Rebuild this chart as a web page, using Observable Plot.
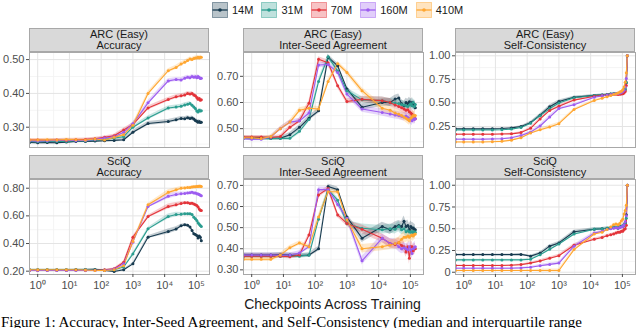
<!DOCTYPE html>
<html><head><meta charset="utf-8">
<script src="https://cdn.jsdelivr.net/npm/d3@7"></script>
<script src="https://cdn.jsdelivr.net/npm/@observablehq/plot@0.6"></script>
<style>
body{margin:0;background:#fff;overflow:hidden;}
#root{position:relative;width:640px;height:328px;overflow:hidden;font-family:"Liberation Sans",Arial,sans-serif;background:#fff;}
.strip{position:absolute;box-sizing:border-box;background:#d9d9d9;border:1px solid #a8a8a8;font-size:11px;line-height:11px;text-align:center;color:#1a1a1a;display:flex;flex-direction:column;justify-content:center;}
.panel{position:absolute;}
.legend{position:absolute;top:2px;left:212px;display:flex;align-items:center;font-size:11px;color:#1a1a1a;}
.legend .item{display:flex;align-items:center;margin-right:8px;}
.legend svg{margin-right:4px;}
.xtitle{position:absolute;left:0;width:665px;text-align:center;top:297px;font-size:14px;line-height:15px;color:#1a1a1a;}
.caption{position:absolute;left:1px;top:316px;font-family:"Liberation Serif","Times New Roman",serif;font-size:15px;line-height:13px;white-space:nowrap;color:#000;}
</style></head><body><div id="root"></div><script>
// ---------- data ----------
const steps = [0,1,2,4,8,16,32,64,128,256,512,1000,3000,13000,23000,33000,43000,53000,63000,73000,83000,93000,103000,113000,123000,133000,143000];
const models = ["14M","31M","70M","160M","410M"];
const palette = ["#173a4f","#2a9d8f","#e3343a","#9d5cf0","#ffa630"];
const tasks = ["ARC (Easy)","SciQ"];
const metrics = ["Accuracy","Inter-Seed Agreement","Self-Consistency"];
const xTicks = [1,10,100,1000,10000,100000];
const xTickLabels = ["10⁰","10¹","10²","10³","10⁴","10⁵"];

// ARC (Easy) accuracy, one row per model (14M, 31M, 70M, 160M, 410M)
const arcAccuracy = [
 [0.255,0.254,0.255,0.254,0.256,0.258,0.258,0.259,0.260,0.261,0.263,0.285,0.311,0.317,0.322,0.326,0.325,0.328,0.326,0.327,0.324,0.320,0.318,0.315,0.317,0.314,0.315],
 [0.258,0.257,0.258,0.258,0.258,0.260,0.259,0.262,0.264,0.268,0.272,0.300,0.327,0.357,0.360,0.362,0.366,0.368,0.370,0.365,0.360,0.355,0.348,0.345,0.350,0.348,0.349],
 [0.262,0.262,0.261,0.262,0.261,0.263,0.264,0.266,0.270,0.275,0.292,0.308,0.357,0.382,0.390,0.393,0.395,0.400,0.398,0.400,0.395,0.393,0.388,0.383,0.385,0.380,0.381],
 [0.260,0.259,0.260,0.261,0.262,0.260,0.261,0.264,0.268,0.272,0.285,0.310,0.372,0.437,0.441,0.440,0.445,0.448,0.446,0.450,0.448,0.449,0.446,0.450,0.447,0.444,0.445],
 [0.262,0.262,0.263,0.262,0.264,0.263,0.262,0.265,0.262,0.270,0.278,0.306,0.400,0.467,0.477,0.487,0.492,0.497,0.502,0.500,0.503,0.505,0.505,0.507,0.505,0.507,0.507]
];
const arcAccuracySpread = [0.004,0.004,0.004,0.004,0.004,0.004,0.004,0.004,0.004,0.004,0.005,0.005,0.006,0.006,0.006,0.006,0.006,0.006,0.006,0.006,0.006,0.006,0.006,0.006,0.006,0.006,0.006];

const arcAgreement = [
 [0.465,0.465,0.465,0.463,0.463,0.477,0.505,0.540,0.568,0.773,0.740,0.652,0.582,0.600,0.600,0.613,0.617,0.595,0.588,0.600,0.595,0.603,0.595,0.600,0.588,0.592,0.580],
 [0.463,0.462,0.462,0.462,0.463,0.463,0.490,0.535,0.680,0.775,0.720,0.645,0.610,0.607,0.600,0.598,0.596,0.592,0.590,0.588,0.585,0.590,0.595,0.588,0.600,0.585,0.592],
 [0.468,0.468,0.468,0.466,0.470,0.505,0.530,0.597,0.765,0.752,0.664,0.604,0.612,0.607,0.600,0.590,0.585,0.580,0.575,0.570,0.572,0.565,0.560,0.555,0.550,0.545,0.538],
 [0.462,0.460,0.460,0.468,0.500,0.525,0.530,0.560,0.743,0.745,0.715,0.632,0.575,0.562,0.556,0.552,0.550,0.547,0.545,0.548,0.543,0.540,0.535,0.530,0.540,0.535,0.538],
 [0.465,0.465,0.462,0.470,0.500,0.525,0.570,0.578,0.575,0.680,0.748,0.715,0.645,0.578,0.570,0.560,0.555,0.550,0.545,0.540,0.535,0.530,0.540,0.545,0.550,0.548,0.550]
];
const arcAgreementSpread = [0.006,0.006,0.006,0.006,0.007,0.008,0.010,0.010,0.010,0.010,0.010,0.010,0.012,0.014,0.015,0.015,0.015,0.016,0.016,0.016,0.017,0.017,0.018,0.018,0.018,0.018,0.018];

const arcConsistency = [
 [0.225,0.225,0.225,0.225,0.225,0.228,0.235,0.250,0.290,0.370,0.460,0.515,0.560,0.580,0.585,0.590,0.595,0.598,0.600,0.600,0.603,0.606,0.610,0.620,0.640,0.715,1.000],
 [0.212,0.212,0.212,0.212,0.212,0.215,0.222,0.240,0.285,0.365,0.440,0.500,0.555,0.578,0.585,0.590,0.595,0.598,0.600,0.600,0.605,0.608,0.612,0.625,0.650,0.720,1.000],
 [0.168,0.168,0.168,0.168,0.168,0.170,0.172,0.185,0.230,0.330,0.420,0.465,0.530,0.570,0.580,0.585,0.588,0.590,0.592,0.590,0.593,0.595,0.598,0.605,0.620,0.685,1.000],
 [0.115,0.115,0.115,0.115,0.117,0.120,0.130,0.155,0.190,0.255,0.350,0.440,0.480,0.560,0.575,0.585,0.590,0.595,0.598,0.600,0.605,0.610,0.620,0.635,0.670,0.760,1.000],
 [0.085,0.085,0.085,0.085,0.088,0.092,0.105,0.130,0.180,0.215,0.245,0.280,0.430,0.525,0.550,0.565,0.580,0.590,0.598,0.605,0.615,0.625,0.640,0.670,0.720,0.820,1.000]
];
const arcConsistencySpread = [0.005,0.005,0.005,0.005,0.005,0.005,0.006,0.008,0.012,0.016,0.018,0.015,0.012,0.010,0.009,0.008,0.008,0.008,0.008,0.008,0.008,0.008,0.009,0.010,0.012,0.015,0.000];

const sciqAccuracy = [
 [0.210,0.210,0.210,0.210,0.210,0.212,0.212,0.213,0.205,0.198,0.210,0.253,0.446,0.487,0.505,0.528,0.535,0.532,0.520,0.495,0.470,0.465,0.458,0.440,0.455,0.445,0.420],
 [0.210,0.210,0.210,0.210,0.210,0.210,0.211,0.210,0.208,0.210,0.230,0.325,0.506,0.595,0.610,0.612,0.615,0.615,0.615,0.610,0.590,0.580,0.566,0.550,0.540,0.530,0.523],
 [0.205,0.205,0.205,0.205,0.205,0.207,0.205,0.207,0.210,0.218,0.265,0.446,0.595,0.667,0.680,0.690,0.694,0.695,0.690,0.692,0.685,0.680,0.675,0.665,0.650,0.640,0.638],
 [0.205,0.205,0.205,0.205,0.205,0.205,0.207,0.205,0.207,0.215,0.253,0.410,0.667,0.742,0.755,0.760,0.762,0.765,0.768,0.770,0.765,0.765,0.760,0.758,0.755,0.750,0.745],
 [0.210,0.210,0.210,0.210,0.210,0.210,0.208,0.205,0.205,0.210,0.240,0.415,0.680,0.770,0.788,0.800,0.802,0.805,0.805,0.808,0.810,0.810,0.812,0.812,0.815,0.815,0.812]
];
const sciqAccuracySpread = [0.004,0.004,0.004,0.004,0.004,0.004,0.004,0.004,0.004,0.005,0.006,0.008,0.010,0.018,0.016,0.012,0.010,0.009,0.009,0.009,0.009,0.009,0.009,0.009,0.010,0.010,0.010];

const sciqAgreement = [
 [0.370,0.370,0.370,0.370,0.372,0.370,0.368,0.370,0.400,0.695,0.680,0.550,0.450,0.505,0.490,0.505,0.510,0.505,0.530,0.505,0.510,0.490,0.505,0.498,0.498,0.492,0.490],
 [0.365,0.365,0.365,0.365,0.365,0.365,0.365,0.370,0.540,0.680,0.630,0.520,0.497,0.490,0.495,0.492,0.505,0.490,0.495,0.480,0.485,0.480,0.478,0.482,0.475,0.480,0.478],
 [0.365,0.365,0.365,0.365,0.365,0.362,0.370,0.465,0.655,0.685,0.560,0.520,0.492,0.450,0.425,0.420,0.428,0.415,0.410,0.385,0.410,0.355,0.410,0.410,0.390,0.400,0.400],
 [0.370,0.370,0.370,0.370,0.370,0.370,0.380,0.410,0.680,0.680,0.610,0.545,0.343,0.450,0.425,0.425,0.410,0.400,0.405,0.400,0.395,0.410,0.395,0.378,0.400,0.405,0.410],
 [0.350,0.350,0.350,0.350,0.370,0.405,0.427,0.410,0.550,0.670,0.670,0.537,0.400,0.410,0.418,0.425,0.430,0.445,0.455,0.455,0.460,0.455,0.462,0.465,0.460,0.468,0.470]
];
const sciqAgreementSpread = [0.010,0.010,0.010,0.010,0.010,0.010,0.010,0.010,0.012,0.012,0.012,0.014,0.020,0.020,0.022,0.022,0.024,0.024,0.025,0.025,0.026,0.028,0.026,0.026,0.025,0.025,0.025];

const sciqConsistency = [
 [0.203,0.203,0.203,0.203,0.203,0.203,0.203,0.205,0.185,0.220,0.300,0.337,0.465,0.495,0.500,0.505,0.505,0.510,0.515,0.505,0.520,0.530,0.525,0.545,0.570,0.660,1.000],
 [0.142,0.142,0.142,0.142,0.142,0.142,0.142,0.142,0.150,0.200,0.265,0.325,0.440,0.495,0.500,0.505,0.510,0.515,0.520,0.510,0.515,0.525,0.530,0.540,0.560,0.620,1.000],
 [0.077,0.077,0.077,0.077,0.077,0.078,0.080,0.088,0.105,0.130,0.160,0.190,0.310,0.380,0.400,0.420,0.430,0.440,0.450,0.460,0.460,0.470,0.470,0.490,0.500,0.540,1.000],
 [0.046,0.046,0.046,0.046,0.046,0.046,0.046,0.050,0.057,0.075,0.090,0.105,0.300,0.450,0.470,0.490,0.500,0.505,0.510,0.505,0.515,0.520,0.525,0.545,0.580,0.650,1.000],
 [0.020,0.020,0.020,0.020,0.020,0.020,0.020,0.020,0.020,0.020,0.020,0.020,0.260,0.440,0.460,0.490,0.520,0.545,0.555,0.545,0.560,0.590,0.610,0.670,0.710,0.770,1.000]
];
const sciqConsistencySpread = [0.006,0.006,0.006,0.006,0.006,0.006,0.006,0.007,0.010,0.014,0.016,0.016,0.018,0.015,0.014,0.014,0.014,0.014,0.014,0.014,0.015,0.016,0.016,0.018,0.020,0.022,0.000];

// y tick values and labels per panel
const yTicksAcc = [0.30,0.40,0.50], yLabelsAcc = ["0.30","0.40","0.50"];
const yTicksIsa = [0.50,0.60,0.70], yLabelsIsa = ["0.50","0.60","0.70"];
const yTicksSc = [0.25,0.50,0.75,1.00], yLabelsSc = ["0.25","0.50","0.75","1.00"];
const yTicksSqAcc = [0.20,0.40,0.60,0.80], yLabelsSqAcc = ["0.20","0.40","0.60","0.80"];
const yTicksSqIsa = [0.30,0.40,0.50,0.60,0.70], yLabelsSqIsa = ["0.30","0.40","0.50","0.60","0.70"];
const yTicksSqSc = [0,0.25,0.50,0.75,1.00], yLabelsSqSc = ["0","0.25","0.50","0.75","1.00"];

// ---------- layout ----------
const xDomain = [Math.pow(10,-0.258), Math.pow(10,5.413)];
const xMinor = xTicks.slice(0,5).map(t => t*Math.sqrt(10));
const colLeft = [29, 243, 455];
const stripTop = [28, 155];
const plotTop = [52, 179];
const PW = 180, PH = 95, STRIP_H = 24, ML = 32, MR = 2, MT = 1;

function minorOf(ticks, dom){
  const step = ticks[1]-ticks[0];
  const out = [];
  for (let v = ticks[0]-step/2; v <= ticks[ticks.length-1]+step/2+1e-9; v += step) if (v>dom[0] && v<dom[1]) out.push(+v.toFixed(4));
  return out;
}

const panels = [
 {row:0,col:0,data:arcAccuracy,spread:arcAccuracySpread,dom:[0.240,0.521],ticks:yTicksAcc,labels:yLabelsAcc},
 {row:0,col:1,data:arcAgreement,spread:arcAgreementSpread,dom:[0.428,0.791],ticks:yTicksIsa,labels:yLabelsIsa},
 {row:0,col:2,data:arcConsistency,spread:arcConsistencySpread,dom:[0.027,1.035],ticks:yTicksSc,labels:yLabelsSc},
 {row:1,col:0,data:sciqAccuracy,spread:sciqAccuracySpread,dom:[0.176,0.863],ticks:yTicksSqAcc,labels:yLabelsSqAcc},
 {row:1,col:1,data:sciqAgreement,spread:sciqAgreementSpread,dom:[0.278,0.728],ticks:yTicksSqIsa,labels:yLabelsSqIsa},
 {row:1,col:2,data:sciqConsistency,spread:sciqConsistencySpread,dom:[-0.026,1.066],ticks:yTicksSqSc,labels:yLabelsSqSc}
];

const root = d3.select("#root");

// legend
const leg = root.append("div").attr("class","legend");
models.forEach((m,i) => {
  const it = leg.append("div").attr("class","item");
  const s = it.append("svg").attr("width",16).attr("height",16);
  s.append("rect").attr("x",0.5).attr("y",0.5).attr("width",15).attr("height",15)
    .attr("fill",palette[i]).attr("fill-opacity",0.3).attr("stroke",palette[i]).attr("stroke-opacity",0.45);
  s.append("line").attr("x1",0.5).attr("x2",15.5).attr("y1",8).attr("y2",8).attr("stroke",palette[i]).attr("stroke-width",1.3);
  s.append("circle").attr("cx",8).attr("cy",8).attr("r",1.8).attr("fill",palette[i]);
  it.append("span").text(m);
});

panels.forEach(p => {
  const left = colLeft[p.col];
  root.append("div").attr("class","strip")
    .style("left", left+"px").style("top", stripTop[p.row]+"px")
    .style("width", PW+"px").style("height", STRIP_H+"px")
    .html(`<div>${tasks[p.row]}</div><div>${metrics[p.col]}</div>`);

  const rows = [];
  p.data.forEach((vals,i) => vals.forEach((v,j) => rows.push({
    model: models[i], x: steps[j] === 0 ? xDomain[0] : steps[j], y: v,
    lo: v - p.spread[j], hi: v + p.spread[j]
  })));
  const labelMap = new Map(p.ticks.map((t,i) => [t, p.labels[i]]));
  const MB = p.row === 1 ? 24 : 1;
  const marks = [
    Plot.ruleX(xMinor, {stroke:"#f2f2f2", strokeWidth:0.8}),
    Plot.ruleY(minorOf(p.ticks, p.dom), {stroke:"#f2f2f2", strokeWidth:0.8}),
    Plot.ruleX(xTicks, {stroke:"#e4e4e4", strokeWidth:1}),
    Plot.ruleY(p.ticks, {stroke:"#e4e4e4", strokeWidth:1}),
    Plot.areaY(rows, {x:"x", y1:"lo", y2:"hi", z:"model", fill:"model", fillOpacity:0.25, clip:true}),
    Plot.line(rows, {x:"x", y:"y", z:"model", stroke:"model", strokeWidth:1.1, clip:true}),
    Plot.dot(rows, {x:"x", y:"y", fill:"model", r:1.5, clip:true}),
    Plot.frame({stroke:"#a8a8a8"}),
    Plot.axisY(p.ticks, {tickFormat: d => labelMap.get(d), tickSize:3, tickPadding:2, fontSize:11, stroke:"#4d4d4d", label:null})
  ];
  if (p.row === 1) marks.push(Plot.axisX(xTicks, {tickFormat: d => xTickLabels[xTicks.indexOf(d)], tickSize:3, tickPadding:4, fontSize:11, stroke:"#4d4d4d", label:null}));
  const svg = Plot.plot({
    width: ML+PW+MR, height: MT+PH+MB,
    marginLeft: ML, marginRight: MR, marginTop: MT, marginBottom: MB,
    style: {fontFamily:'"Liberation Sans", Arial, sans-serif', fontSize:"11px", color:"#4d4d4d", background:"transparent", overflow:"visible"},
    x: p.row === 1 ? {type:"log", domain:xDomain, label:null} : {type:"log", domain:xDomain, axis:null, label:null},
    y: {domain:p.dom, axis:null, label:null},
    color: {domain:models, range:palette},
    marks
  });
  const holder = root.append("div").attr("class","panel")
    .style("left",(left-ML)+"px").style("top",(plotTop[p.row]-MT)+"px");
  holder.node().appendChild(svg);
});

root.append("div").attr("class","xtitle").text("Checkpoints Across Training");
root.append("div").attr("class","caption").text("Figure 1: Accuracy, Inter-Seed Agreement, and Self-Consistency (median and interquartile range");
</script></body></html>
